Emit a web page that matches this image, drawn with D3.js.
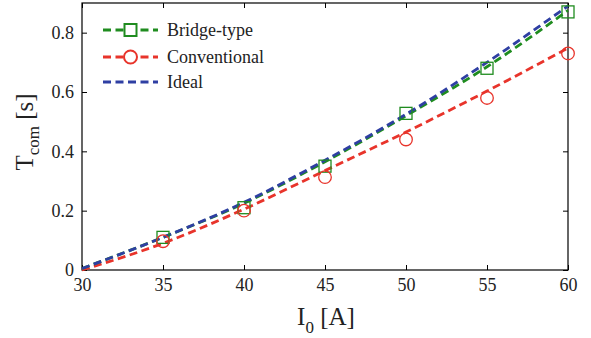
<!DOCTYPE html>
<html><head><meta charset="utf-8">
<style>
body{margin:0;background:#fff;font-family:'Liberation Serif',serif}
svg{display:block;font-family:'Liberation Serif',serif}
svg text{font-family:'Liberation Serif',serif}
</style>
</head><body>
<svg id="c" width="591" height="338"></svg>
<script src="https://cdn.jsdelivr.net/npm/d3@7"></script>
<script>
const xLine = [30, 35, 40, 45, 50, 55, 60];
const idealLine = [0.005, 0.11, 0.228, 0.37, 0.525, 0.70, 0.89];
const bridgeLine = [0.005, 0.11, 0.225, 0.365, 0.52, 0.685, 0.875];
const convLine = [0.0, 0.09, 0.205, 0.335, 0.465, 0.603, 0.748];
const xMeas = [35, 40, 45, 50, 55, 60];
const bridgeMeas = [0.11, 0.21, 0.35, 0.528, 0.68, 0.87];
const convMeas = [0.097, 0.20, 0.313, 0.44, 0.58, 0.73];
const xTicks = [30, 35, 40, 45, 50, 55, 60];
const yTicks = [0, 0.2, 0.4, 0.6, 0.8];
const seriesNames = ["Bridge-type", "Conventional", "Ideal"];
const colors = {green: "#1f8c1f", red: "#e8342b", blue: "#2f3fa3"};

const FONT = "Liberation Serif";
const svg = d3.select("#c");
const L = 82, R = 568, T = 3, B = 270;
const x = d3.scaleLinear().domain([30, 60]).range([L, R]);
const y = d3.scaleLinear().domain([0, 0.9]).range([B, T]);

function setFont(sel, size) {
  sel.attr("font-family", FONT).attr("font-size", size)
     .attr("style", `font-family:'${FONT}',serif;font-size:${size}px`);
}

// frame
svg.append("rect").attr("x", L).attr("y", T).attr("width", R - L).attr("height", B - T)
  .attr("fill", "none").attr("stroke", "#000").attr("stroke-width", 1.2);

// axes with inward ticks
const axB = svg.append("g").attr("transform", `translate(0,${B})`)
  .call(d3.axisBottom(x).tickValues(xTicks).tickSize(-5).tickFormat(d3.format("d")));
const axT = svg.append("g").attr("transform", `translate(0,${T})`)
  .call(d3.axisTop(x).tickValues(xTicks).tickSize(-5).tickFormat(""));
const axL = svg.append("g").attr("transform", `translate(${L},0)`)
  .call(d3.axisLeft(y).tickValues(yTicks).tickSize(-5).tickFormat(d => d === 0 ? "0" : d3.format(".1f")(d)));
const axR = svg.append("g").attr("transform", `translate(${R},0)`)
  .call(d3.axisRight(y).tickValues(yTicks).tickSize(-5).tickFormat(""));
[axB, axT, axL, axR].forEach(g => {
  g.attr("font-family", FONT).attr("font-size", 18);
  g.select(".domain").remove();
  g.selectAll("line").attr("stroke", "#000").attr("stroke-width", 1);
  g.selectAll("text").attr("fill", "#222").call(setFont, 18);
});
axB.selectAll("text").attr("y", 21).attr("dy", 0);
axL.selectAll("text").attr("x", -8).attr("dy", "0.33em");

// lines
const line = d3.line().x(d => x(d[0])).y(d => y(d[1])).curve(d3.curveMonotoneX);
function drawLine(vals, col) {
  svg.append("path").datum(xLine.map((v, i) => [v, vals[i]]))
    .attr("d", line).attr("fill", "none").attr("stroke", col)
    .attr("stroke-width", 2.8).attr("stroke-dasharray", "8,4.5");
}
drawLine(convLine, colors.red);
drawLine(bridgeLine, colors.green);
drawLine(idealLine, colors.blue);

// markers
svg.append("g").selectAll("rect").data(xMeas.map((v, i) => [v, bridgeMeas[i]])).join("rect")
  .attr("x", d => x(d[0]) - 6).attr("y", d => y(d[1]) - 6).attr("width", 12).attr("height", 12)
  .attr("fill", "none").attr("stroke", colors.green).attr("stroke-width", 1.3);
svg.append("g").selectAll("circle").data(xMeas.map((v, i) => [v, convMeas[i]])).join("circle")
  .attr("cx", d => x(d[0])).attr("cy", d => y(d[1])).attr("r", 6.3)
  .attr("fill", "none").attr("stroke", colors.red).attr("stroke-width", 1.3);

// legend
const legRows = [30, 57, 82];
const legCols = [colors.green, colors.red, colors.blue];
seriesNames.forEach((name, i) => {
  const yy = legRows[i];
  svg.append("line").attr("x1", 103).attr("x2", 158).attr("y1", yy).attr("y2", yy)
    .attr("stroke", legCols[i]).attr("stroke-width", 2.8).attr("stroke-dasharray", "8,4.5");
  if (i === 0) svg.append("rect").attr("x", 124.5).attr("y", yy - 6).attr("width", 12).attr("height", 12)
    .attr("fill", "#fff").attr("stroke", legCols[i]).attr("stroke-width", 2);
  if (i === 1) svg.append("circle").attr("cx", 130.5).attr("cy", yy).attr("r", 6.5)
    .attr("fill", "#fff").attr("stroke", legCols[i]).attr("stroke-width", 2);
  svg.append("text").attr("x", 167).attr("y", yy + 6).text(name)
    .attr("fill", "#222").call(setFont, 18);
});

// axis titles
const xl = svg.append("text").attr("x", 326).attr("y", 325).attr("text-anchor", "middle")
  .attr("fill", "#222").call(setFont, 25);
xl.append("tspan").text("I");
xl.append("tspan").attr("dy", 8).attr("font-size", 17).attr("style", "font-size:17px").text("0");
xl.append("tspan").attr("dy", -8).text(" [A]");

const yl = svg.append("text").attr("transform", "translate(33,132) rotate(-90)").attr("text-anchor", "middle")
  .attr("fill", "#222").call(setFont, 25);
yl.append("tspan").text("T");
yl.append("tspan").attr("dy", 6).attr("font-size", 17).attr("style", "font-size:17px").text("com");
yl.append("tspan").attr("dy", -6).text(" [s]");
</script>
</body></html>
